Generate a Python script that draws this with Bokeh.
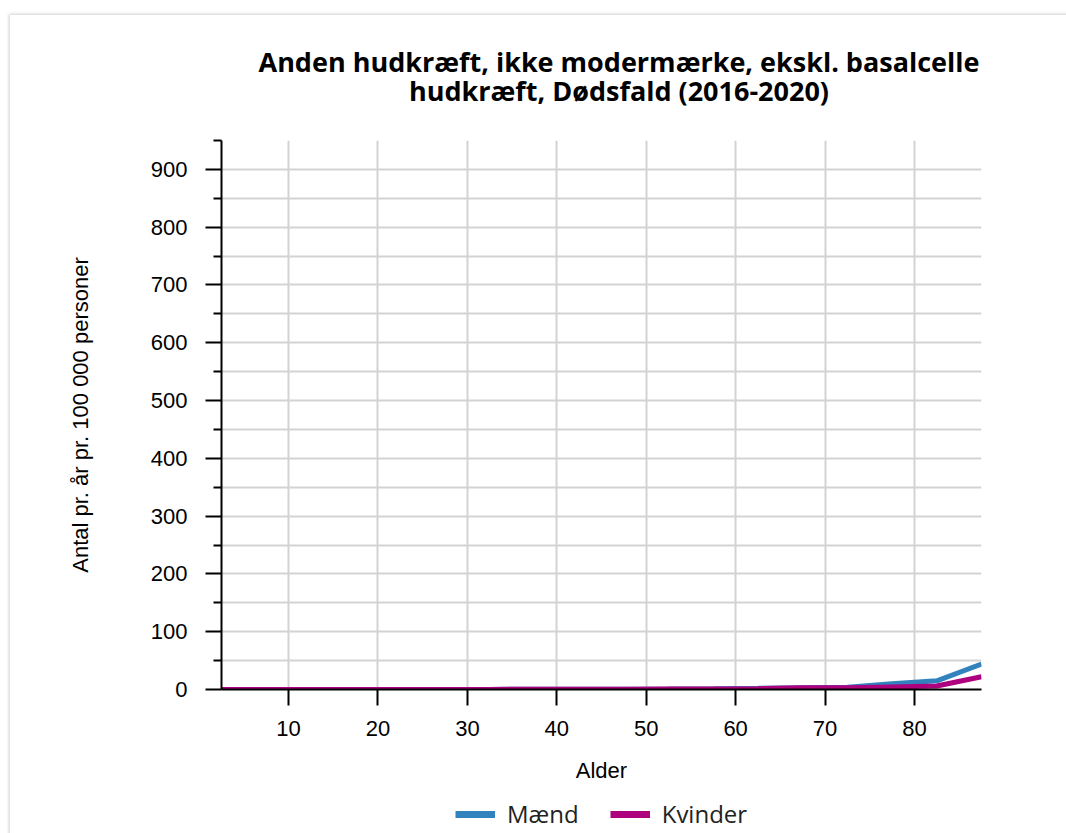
from bokeh.plotting import figure
from bokeh.layouts import column
from bokeh.models import (FixedTicker, Range1d, Legend, LegendItem, ColumnDataSource, Div)
from bokeh.embed import file_html
from bokeh.resources import INLINE

ages = [2.5, 7.5, 12.5, 17.5, 22.5, 27.5, 32.5, 37.5, 42.5, 47.5,
        52.5, 57.5, 62.5, 67.5, 72.5, 77.5, 82.5, 87.5]
maend = [0.0, 0.0, 0.0, 0.0, 0.1, 0.2, 0.2, 0.3, 0.4, 0.6,
         0.9, 1.3, 2.0, 3.0, 4.0, 10.0, 15.0, 44.0]
kvinder = [0.0, 0.0, 0.0, 0.0, 0.1, 0.1, 0.2, 0.3, 0.4, 0.5,
           0.8, 1.0, 1.5, 3.0, 3.0, 4.5, 6.0, 22.0]
series_names = ["Mænd", "Kvinder"]
colors = ["#3182bd", "#ae017e"]
x_ticks = [10, 20, 30, 40, 50, 60, 70, 80]
y_ticks = [0, 100, 200, 300, 400, 500, 600, 700, 800, 900]
y_minor = [50, 150, 250, 350, 450, 550, 650, 750, 850, 950]
title_line1 = "Anden hudkræft, ikke modermærke, ekskl. basalcelle"
title_line2 = "hudkræft, Dødsfald (2016-2020)"

title_div = Div(
    text=('<div style="width:760px;margin-left:224px;padding-top:27px;text-align:center;'
          'font-family:\'Open Sans\';font-weight:bold;font-size:27px;line-height:29px;'
          'color:black;white-space:nowrap;">' + title_line1 + '<br>' + title_line2 + '</div>'),
    width=1048, height=100)

p = figure(width=1048, height=664, output_backend="svg", toolbar_location=None,
           x_range=Range1d(2.5, 87.5), y_range=Range1d(0, 950),
           min_border_left=211, min_border_right=77, min_border_top=15, min_border_bottom=100)
p.outline_line_color = None
p.background_fill_color = "white"
p.border_fill_color = "white"

grid_color = "#d3d3d3"
p.xgrid.ticker = FixedTicker(ticks=x_ticks)
p.ygrid.ticker = FixedTicker(ticks=y_ticks, minor_ticks=y_minor)
for g in (p.xgrid, p.ygrid):
    g.grid_line_color = grid_color
    g.grid_line_width = 2
p.ygrid.minor_grid_line_color = grid_color
p.ygrid.minor_grid_line_width = 2

xa = p.xaxis[0]
xa.ticker = FixedTicker(ticks=x_ticks)
xa.axis_label = "Alder"
ya = p.yaxis[0]
ya.ticker = FixedTicker(ticks=y_ticks, minor_ticks=y_minor)
ya.axis_label = "Antal pr. år pr. 100 000 personer"
for ax in (xa, ya):
    ax.axis_line_color = "black"
    ax.axis_line_width = 2
    ax.major_tick_line_color = "black"
    ax.major_tick_line_width = 2
    ax.major_tick_in = 0
    ax.major_tick_out = 16
    ax.minor_tick_in = 0
    ax.major_label_text_font = "Liberation Sans"
    ax.major_label_text_font_size = "22px"
    ax.major_label_text_color = "black"
    ax.axis_label_text_font = "Liberation Sans"
    ax.axis_label_text_font_size = "22px"
    ax.axis_label_text_font_style = "normal"
    ax.axis_label_text_color = "black"
xa.minor_tick_out = 0
xa.minor_tick_line_color = None
xa.major_label_standoff = 15
xa.axis_label_standoff = 19
ya.minor_tick_out = 8
ya.minor_tick_line_color = "black"
ya.minor_tick_line_width = 2
ya.major_label_standoff = 18
ya.axis_label_standoff = 55

src = ColumnDataSource(dict(x=ages, m=maend, k=kvinder))
p.line("x", "m", source=src, line_color=colors[0], line_width=5)
p.line("x", "k", source=src, line_color=colors[1], line_width=5)

# legend strip below the chart (series drawn out of its view, only legend glyphs show)
lf = figure(width=1048, height=53, output_backend="svg", toolbar_location=None,
            x_range=Range1d(200, 300), y_range=Range1d(200, 300),
            min_border=0, min_border_left=0, min_border_right=0,
            min_border_top=0, min_border_bottom=0)
lf.axis.visible = False
lf.grid.visible = False
lf.outline_line_color = None
lf.border_fill_color = "white"
lm = lf.line(ages, maend, line_color=colors[0], line_width=7)
lk = lf.line(ages, kvinder, line_color=colors[1], line_width=7)
legend = Legend(items=[LegendItem(label=series_names[0], renderers=[lm]),
                       LegendItem(label=series_names[1], renderers=[lk])],
                orientation="horizontal", location=(234, 12),
                label_text_font="Open Sans", label_text_font_size="24px",
                label_text_color="#222222",
                glyph_width=40, glyph_height=24, label_standoff=12, spacing=31,
                padding=0, margin=0, border_line_color=None, background_fill_alpha=0)
lf.add_layout(legend, "center")

layout = column(title_div, p, lf, spacing=0)
layout.styles = {"box-shadow": "0 0 3px 1px #d0d0d0", "background": "white",
                 "margin-left": "10px", "margin-top": "15px"}

open("out.html", "w").write(file_html(layout, INLINE))
